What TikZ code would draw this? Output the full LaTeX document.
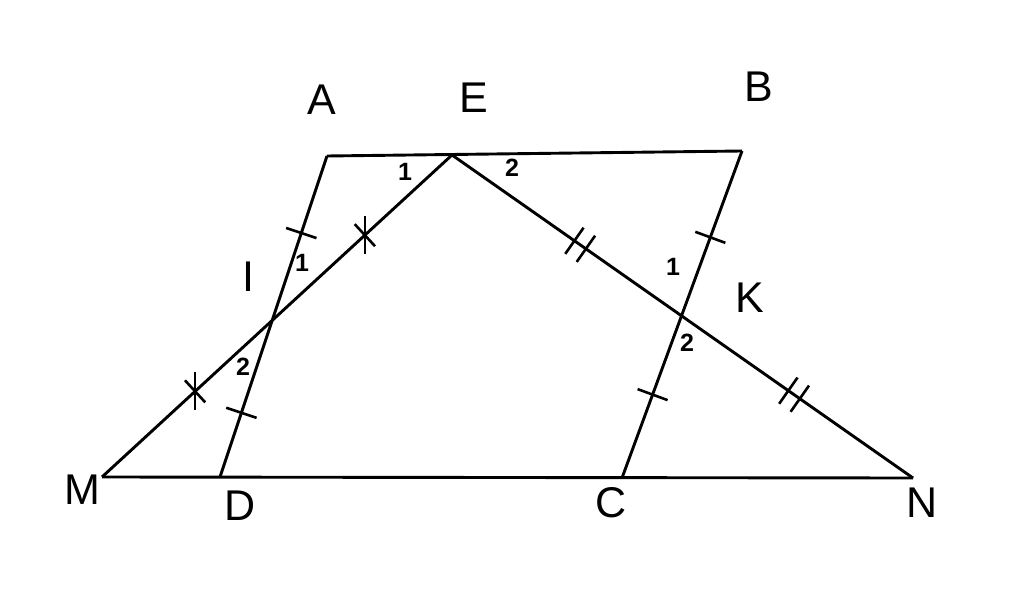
\documentclass[tikz,border=0pt]{standalone}
\usepackage{fontspec}
\setmainfont{Liberation Sans}
\usetikzlibrary{calc}
\newcommand\stick[3]{%
  \coordinate (tmp) at ($(#1)!#3!(#2)$);
  \draw[tk] ($(tmp)!16pt!90:(#2)$) -- ($(tmp)!16pt!-90:(#2)$);}
\newcommand\dtick[3]{%
  \coordinate (tmp) at ($(#1)!#3!(#2)$);
  \coordinate (tmpa) at ($(tmp)!7pt!(#2)$);
  \coordinate (tmpb) at ($(tmp)!-7pt!(#2)$);
  \draw[tk] ($(tmpa)!16pt!90:(#2)$) -- ($(tmpa)!16pt!-90:(#2)$);
  \draw[tk] ($(tmpb)!16pt!90:(#2)$) -- ($(tmpb)!16pt!-90:(#2)$);}
\newcommand\xtick[3]{%
  \coordinate (tmp) at ($(#1)!#3!(#2)$);
  \draw[tk] ($(tmp)!15pt!90:(#2)$) -- ($(tmp)!15pt!-90:(#2)$);
  \draw[tk] ($(tmp)+(0,-19)$) -- ($(tmp)+(0,19)$);}
\begin{document}
\begin{tikzpicture}[x=1pt,y=-1pt,
  seg/.style={line width=2.9pt},
  tk/.style={line width=2.6pt},
  lbl/.style={font=\fontsize{43}{43}\selectfont, inner sep=0pt},
  num/.style={font=\bfseries\fontsize{25}{25}\selectfont, inner sep=0pt}]
\useasboundingbox (0,0) rectangle (1024,593);
\coordinate (A) at (327,156);
\coordinate (E) at (452,155);
\coordinate (B) at (742,151);
\coordinate (M) at (102,477);
\coordinate (D) at (220,477);
\coordinate (C) at (622,478);
\coordinate (N) at (913,478);
\coordinate (I) at (intersection of A--D and E--M);
\coordinate (K) at (intersection of B--C and E--N);
\draw[seg] (A) -- (B);
\draw[seg] (A) -- (D);
\draw[seg] (B) -- (C);
\draw[seg] (M) -- (N);
\draw[seg] (E) -- (M);
\draw[seg] (E) -- (N);
\stick{A}{D}{0.24}
\stick{A}{D}{0.80}
\stick{B}{C}{0.264}
\stick{B}{C}{0.745}
\dtick{E}{N}{0.278}
\dtick{E}{N}{0.742}
\xtick{E}{M}{0.249}
\xtick{E}{M}{0.734}
\node[lbl] (lA) at (322,100) {A};
\node[lbl] (lE) at (474,98) {E};
\node[lbl] (lB) at (759,87) {B};
\node[lbl] (lI) at (248,277) {I};
\node[lbl] (lK) at (750,298) {K};
\node[lbl] (lM) at (82,490) {M};
\node[lbl] (lD) at (240,506) {D};
\node[lbl] (lC) at (611,503) {C};
\node[lbl] (lN) at (922,503) {N};
\node[num] (e1) at (405,172) {1};
\node[num] (e2) at (512,168) {2};
\node[num] (i1) at (302,263) {1};
\node[num] (i2) at (243,367) {2};
\node[num] (k1) at (673,267) {1};
\node[num] (k2) at (687,343) {2};
\end{tikzpicture}
\end{document}
